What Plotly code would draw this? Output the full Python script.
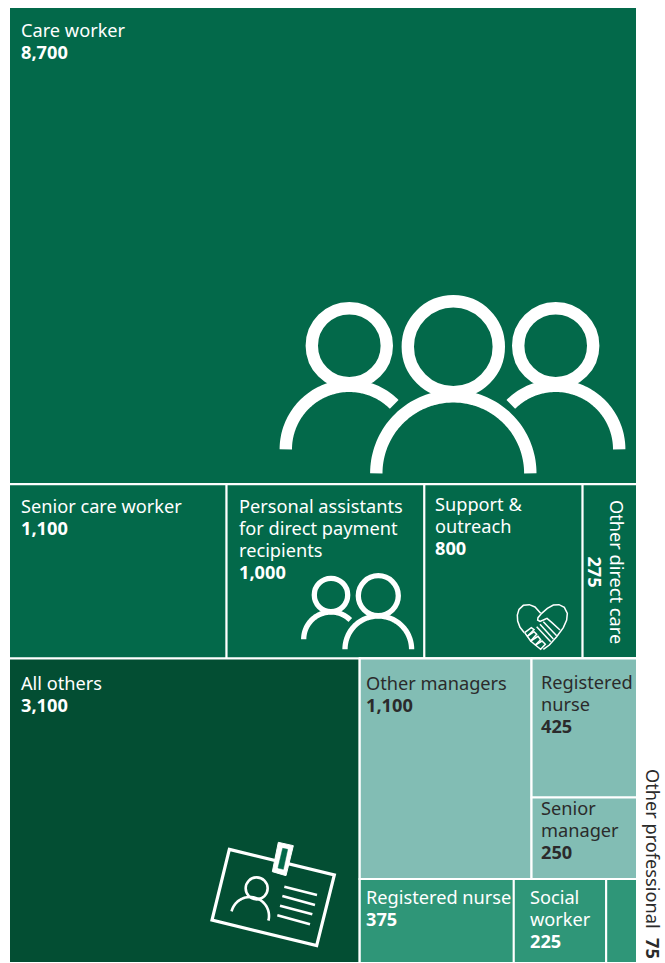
import numpy as np
import plotly.graph_objects as go

W, H = 665, 963

# Workforce headcount per job role, nested so that slice/dice tiling gives the rows and columns
node_ids = ["root", "care", "row2", "row3",
            "senior_care", "pa", "support", "other_direct",
            "all_others", "professional",
            "prof_top", "prof_bottom",
            "other_managers", "mgr_side", "reg_nurse_a", "senior_mgr",
            "reg_nurse_b", "social_worker", "other_prof"]
node_parents = ["", "root", "root", "root",
                "row2", "row2", "row2", "row2",
                "row3", "row3",
                "professional", "professional",
                "prof_top", "prof_top", "mgr_side", "mgr_side",
                "prof_bottom", "prof_bottom", "prof_bottom"]
node_values = [17425, 8700, 3175, 5550,
               1100, 1000, 800, 275,
               3100, 2450,
               1775, 675,
               1100, 675, 425, 250,
               375, 225, 75]

GREEN = "#03694A"
DARK = "#034E33"
PALE = "#82BDB4"
MID = "#2F9678"
node_colors = ["#ffffff", GREEN, GREEN, DARK,
               GREEN, GREEN, GREEN, GREEN,
               DARK, PALE,
               PALE, MID,
               PALE, PALE, PALE, PALE,
               MID, MID, MID]

LIGHT_TEXT = "#ffffff"
DARK_TEXT = "#2b2b2b"
FONT = "Noto Sans"
LEADING_SIZE = 17   # sets the line spacing of a label
GLYPH_SIZE = 18.2   # size of the letters themselves


def px(x):
    return x / W


def py(y):
    return 1 - y / H


fig = go.Figure(go.Treemap(
    ids=node_ids,
    labels=node_ids,
    parents=node_parents,
    values=node_values,
    branchvalues="total",
    sort=False,
    maxdepth=-1,
    textinfo="none",
    hoverinfo="skip",
    tiling=dict(packing="dice-slice", pad=0),
    pathbar=dict(visible=False),
    marker=dict(colors=node_colors, line=dict(color="#ffffff", width=2),
                pad=dict(t=0, l=0, r=0, b=0)),
    domain=dict(x=[px(9), px(637)], y=[0, py(7)]),
))


def sized(text):
    return f"<span style='font-size:{GLYPH_SIZE}px'>{text}</span>"


def tile_label(x, y, lines, value, color=LIGHT_TEXT):
    rows = [sized(line) for line in lines] + [sized(f"<b>{value:,}</b>")]
    fig.add_annotation(x=px(x), y=py(y), xref="paper", yref="paper",
                       xanchor="left", yanchor="top", align="left", showarrow=False,
                       text="<br>".join(rows),
                       font=dict(family=FONT, size=LEADING_SIZE, color=color))


def turned_label(x, y, text, color):
    fig.add_annotation(x=px(x), y=py(y), xref="paper", yref="paper", textangle=90,
                       xanchor="center", yanchor="middle", align="center", showarrow=False,
                       text=text, font=dict(family=FONT, size=LEADING_SIZE, color=color))


tile_label(19, 16, ["Care worker"], 8700)
tile_label(19, 492, ["Senior care worker"], 1100)
tile_label(237, 492, ["Personal assistants", "for direct payment", "recipients"], 1000)
tile_label(433, 490, ["Support &amp;", "outreach"], 800)
tile_label(19, 669, ["All others"], 3100)
tile_label(364, 669, ["Other managers"], 1100, DARK_TEXT)
tile_label(539, 668, ["Registered", "nurse"], 425, DARK_TEXT)
tile_label(539, 794, ["Senior", "manager"], 250, DARK_TEXT)
tile_label(364, 883, ["Registered nurse"], 375)
tile_label(528, 883, ["Social", "worker"], 225)

# Rotated labels for the narrow tiles
turned_label(606, 572, sized("Other direct care") + "<br>" + sized("<b>275</b>"), LIGHT_TEXT)
turned_label(653, 864, sized("Other professional\u00a0\u00a0<b>75</b>"), DARK_TEXT)


def stroke(path, width, color="#ffffff", fill=None):
    fig.add_shape(type="path", path=path, xref="paper", yref="paper", layer="above",
                  line=dict(color=color, width=width),
                  fillcolor=fill if fill else "rgba(0,0,0,0)")


def poly(points, closed=False):
    d = "M" + " L".join(f"{px(x):.5f},{py(y):.5f}" for x, y in points)
    return d + (" Z" if closed else "")


def arc(cx, cy, r, start, end, width):
    t = np.radians(np.linspace(start, end, 80))
    stroke(poly(list(zip(cx + r * np.cos(t), cy - r * np.sin(t)))), width)


def ring(cx, cy, r, width):
    fig.add_shape(type="circle", xref="paper", yref="paper", layer="above",
                  x0=px(cx - r), x1=px(cx + r), y0=py(cy + r), y1=py(cy - r),
                  line=dict(color="#ffffff", width=width), fillcolor="rgba(0,0,0,0)")


def scaled(points, x0, y0):
    return [(x0 + x / 3, y0 + y / 3) for x, y in points]


# Group of three people in the care worker tile
ring(453.3, 346.7, 45.5, 12.4)
ring(349.3, 345.7, 37.5, 12.4)
ring(555.7, 345.7, 37.5, 12.4)
arc(453.3, 473.3, 77, 180, 0, 12.4)
arc(349.3, 449.3, 63.5, 180, 45, 12.4)
arc(555.7, 449.3, 63.5, 135, 0, 12.4)

# Two people in the personal assistants tile
ring(331, 595, 16.7, 5.3)
ring(378.3, 595.7, 20, 5.3)
arc(331, 639.3, 27.3, 180, 45, 5.3)
arc(378.3, 649.3, 33.3, 180, 0, 5.3)

# Heart of two clasped hands in the support tile
hand_x, hand_y = 510, 595
heart = [(92, 55), (75, 36), (58, 29), (40, 31), (27, 43), (22, 60), (23, 78), (30, 97), (43, 113)]
heart2 = [(100, 163), (118, 150), (140, 125), (160, 98), (170, 75), (172, 55), (163, 37), (147, 29),
          (130, 30), (112, 40), (95, 55), (84, 68), (83, 75), (90, 79), (100, 75), (111, 70),
          (125, 82), (150, 105)]
stroke(poly(scaled(heart, hand_x, hand_y)), 1.5)
stroke(poly(scaled(heart2, hand_x, hand_y)), 1.5)
for seg in ([(80, 95), (122, 140)], [(90, 88), (130, 132)], [(100, 80), (140, 122)],
            [(44, 113), (64, 98), (72, 104), (52, 124), (44, 113)],
            [(52, 124), (72, 110), (80, 118), (62, 138), (52, 124)],
            [(62, 138), (84, 124), (92, 134), (76, 150), (62, 138)],
            [(76, 150), (96, 138), (106, 148), (92, 163), (76, 150)]):
    stroke(poly(scaled(seg, hand_x, hand_y)), 1.5)

# Identity badge in the all others tile
card_x, card_y = 190, 780
stroke(poly(scaled([(118, 208), (433, 285), (380, 497), (66, 420)], card_x, card_y), closed=True), 3.2)
stroke(poly(scaled([(265, 187), (310, 197), (288, 287), (247, 275)], card_x, card_y), closed=True),
       1, fill="#ffffff")
stroke(poly(scaled([(278, 205), (293, 208), (280, 268), (264, 264)], card_x, card_y), closed=True),
       0.5, color=GREEN, fill=GREEN)
ring(card_x + 200 / 3, card_y + 325 / 3, 11, 2.6)
arc(card_x + 180 / 3, card_y + 408 / 3, 19, 166, -14, 2.6)
for seg in ([(283, 320), (381, 345)], [(277, 348), (375, 375)], [(270, 377), (367, 403)], [(262, 406), (360, 433)]):
    stroke(poly(scaled(seg, card_x, card_y)), 2.6)

fig.update_layout(width=W, height=H, margin=dict(l=0, r=0, t=0, b=0),
                  paper_bgcolor="#ffffff", showlegend=False)
fig.write_html("out.html", config={"displayModeBar": False})
